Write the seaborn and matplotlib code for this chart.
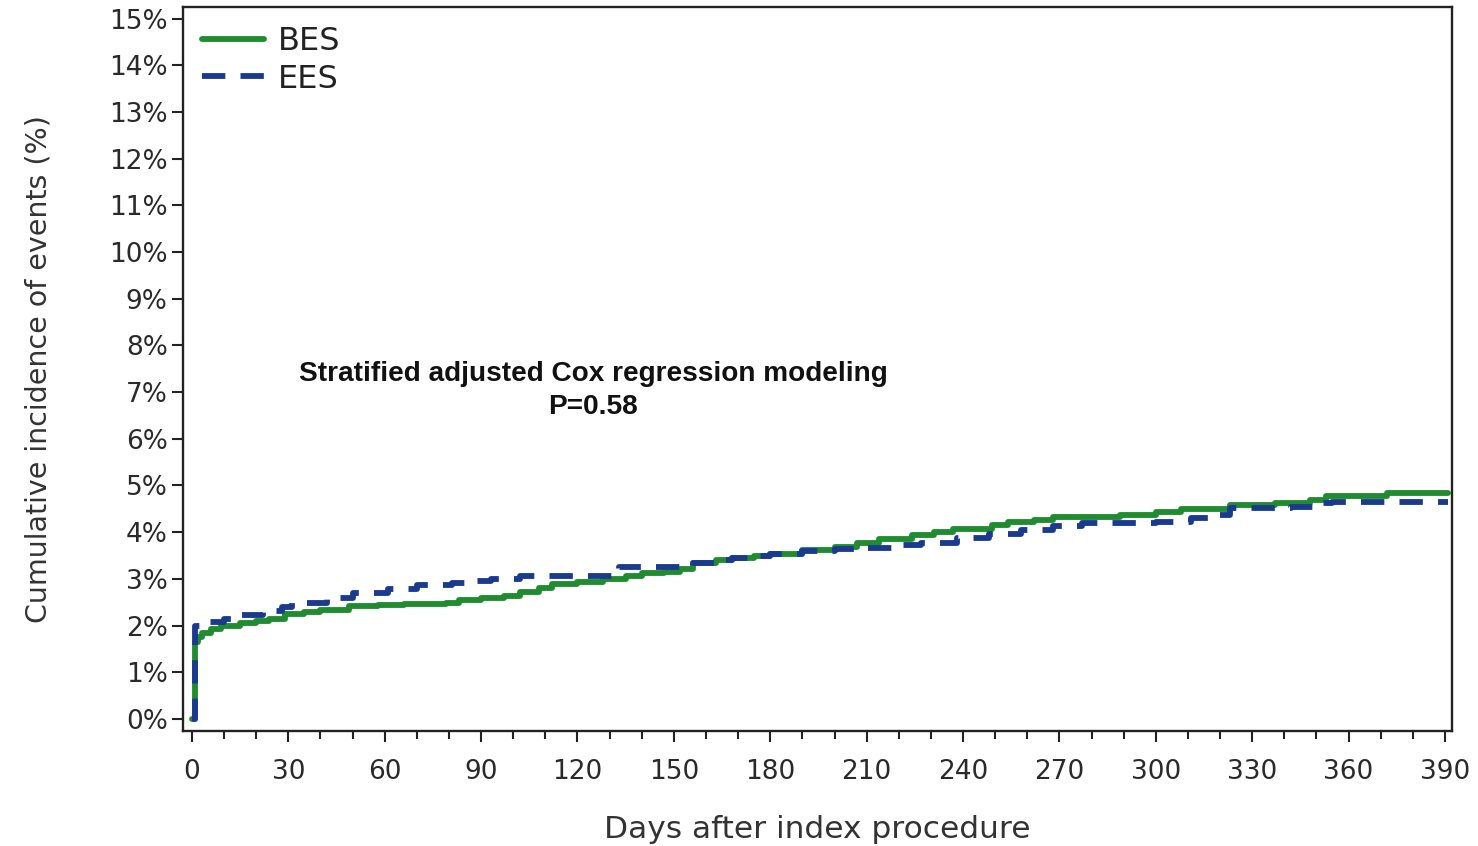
import numpy as np
import pandas as pd
import seaborn as sns
import matplotlib
matplotlib.use("Agg")
import matplotlib.pyplot as plt
from matplotlib.ticker import FuncFormatter, MultipleLocator

# Cumulative incidence step functions (day of event, cumulative % after the event)
bes_days = [0, 1, 2, 3, 6, 9, 15, 20, 24, 29, 35, 40, 49, 58, 66, 79, 83, 90, 97,
            102, 108, 112, 120, 128, 135, 140, 147, 152, 156, 163, 168, 175, 180,
            190, 200, 207, 214, 224, 231, 237, 249, 254, 262, 268, 289, 300, 308,
            323, 337, 348, 353, 372, 391]
bes_pct = [0.00, 1.65, 1.75, 1.84, 1.92, 1.99, 2.05, 2.10, 2.14, 2.24, 2.29, 2.33,
           2.42, 2.44, 2.46, 2.49, 2.55, 2.60, 2.64, 2.72, 2.80, 2.88, 2.93, 3.00,
           3.06, 3.12, 3.15, 3.22, 3.34, 3.40, 3.45, 3.50, 3.53, 3.62, 3.69, 3.76,
           3.85, 3.94, 4.00, 4.06, 4.16, 4.22, 4.27, 4.32, 4.37, 4.43, 4.49, 4.58,
           4.62, 4.69, 4.77, 4.83, 4.83]

ees_days = [0, 1, 4, 10, 14, 22, 28, 31, 42, 50, 61, 70, 81, 88, 93, 102, 123,
            133, 152, 156, 163, 168, 175, 180, 190, 200, 207, 218, 227, 238, 248,
            258, 268, 277, 300, 311, 320, 323, 342, 350, 355, 391]
ees_pct = [0.00, 2.00, 2.08, 2.15, 2.23, 2.31, 2.40, 2.48, 2.59, 2.70, 2.78, 2.87,
           2.91, 2.96, 3.00, 3.06, 3.06, 3.26, 3.26, 3.34, 3.40, 3.45, 3.50, 3.53,
           3.60, 3.64, 3.66, 3.73, 3.77, 3.87, 3.96, 4.05, 4.13, 4.19, 4.22, 4.30,
           4.36, 4.51, 4.53, 4.62, 4.65, 4.65]

groups = ["BES", "EES"]
colors = {"BES": "#1f8c30", "EES": "#1a3a8f"}
x_ticks = list(range(0, 391, 30))
y_ticks = list(range(0, 16))

df = pd.concat([
    pd.DataFrame({"day": bes_days, "pct": bes_pct, "stent": "BES"}),
    pd.DataFrame({"day": ees_days, "pct": ees_pct, "stent": "EES"}),
], ignore_index=True)

sns.set_style("ticks")
plt.rcParams["font.family"] = ["DejaVu Sans"]

LW = 4.2
DASH = (4, 2.6)

fig = plt.figure(figsize=(14.78, 8.46), dpi=100)
ax = fig.add_axes([0.1238, 0.1359, 0.9824 - 0.1238, 0.9917 - 0.1359])

sns.lineplot(data=df, x="day", y="pct", hue="stent", style="stent",
             hue_order=groups, style_order=groups, palette=colors,
             dashes={"BES": "", "EES": DASH}, estimator=None, sort=False,
             drawstyle="steps-post", linewidth=LW, ax=ax, legend=False)

ax.set_xlim(-2.8, 392.2)
ax.set_ylim(-0.26, 15.25)
ax.set_xticks(x_ticks)
ax.xaxis.set_minor_locator(MultipleLocator(10))
ax.set_yticks(y_ticks)
ax.yaxis.set_major_formatter(FuncFormatter(lambda v, p: f"{int(v)}%"))

ax.tick_params(axis="both", which="major", length=8, width=1.5, colors="#222222",
               labelsize=19, labelcolor="#2a2a2a")
ax.tick_params(axis="x", which="major", pad=12)
ax.tick_params(axis="y", which="major", pad=3)
ax.tick_params(axis="x", which="minor", length=5.5, width=1.5, colors="#222222")

for side in ["left", "right", "top", "bottom"]:
    ax.spines[side].set_visible(True)
    ax.spines[side].set_linewidth(1.7)
    ax.spines[side].set_color("#222222")

ax.set_xlabel("Days after index procedure", fontsize=22.5, color="#333333", labelpad=22)
ax.set_ylabel("Cumulative incidence of events (%)", fontsize=20.5, color="#333333", labelpad=41)

ax.text(124.8, 7.39, "Stratified adjusted Cox regression modeling",
        family="Liberation Sans", fontweight="bold", fontsize=20.2,
        ha="center", va="center", color="#111111")
ax.text(124.8, 6.68, "P=0.58", family="Liberation Sans", fontweight="bold",
        fontsize=20.2, ha="center", va="center", color="#111111")

handles = [
    plt.Line2D([], [], color=colors["BES"], linewidth=LW),
    plt.Line2D([], [], color=colors["EES"], linewidth=LW, linestyle=(0, DASH)),
]
ax.legend(handles, groups, loc="upper left", frameon=False, fontsize=23,
          handlelength=1.95, handletextpad=0.42, labelspacing=0.2,
          borderaxespad=0.25, borderpad=0.35, labelcolor="#222222")

fig.savefig("out.png", dpi=100)
